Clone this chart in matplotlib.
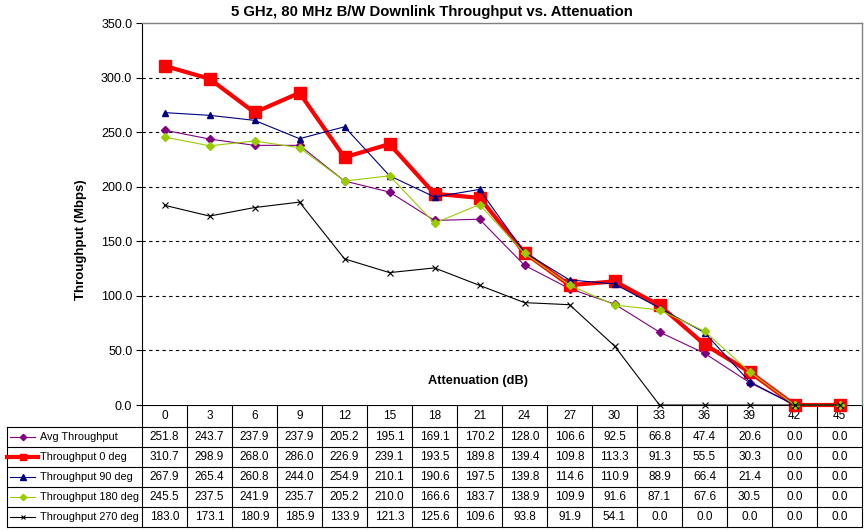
import matplotlib
matplotlib.use("Agg")
import matplotlib.pyplot as plt
from matplotlib.lines import Line2D

plt.rcParams['font.family'] = ['Liberation Sans', 'DejaVu Sans']

# datos
atten = [0, 3, 6, 9, 12, 15, 18, 21, 24, 27, 30, 33, 36, 39, 42, 45]
avg = [251.8, 243.7, 237.9, 237.9, 205.2, 195.1, 169.1, 170.2, 128.0, 106.6, 92.5, 66.8, 47.4, 20.6, 0.0, 0.0]
deg0 = [310.7, 298.9, 268.0, 286.0, 226.9, 239.1, 193.5, 189.8, 139.4, 109.8, 113.3, 91.3, 55.5, 30.3, 0.0, 0.0]
deg90 = [267.9, 265.4, 260.8, 244.0, 254.9, 210.1, 190.6, 197.5, 139.8, 114.6, 110.9, 88.9, 66.4, 21.4, 0.0, 0.0]
deg180 = [245.5, 237.5, 241.9, 235.7, 205.2, 210.0, 166.6, 183.7, 138.9, 109.9, 91.6, 87.1, 67.6, 30.5, 0.0, 0.0]
deg270 = [183.0, 173.1, 180.9, 185.9, 133.9, 121.3, 125.6, 109.6, 93.8, 91.9, 54.1, 0.0, 0.0, 0.0, 0.0, 0.0]

nombres = ['Avg Throughput', 'Throughput 0 deg', 'Throughput 90 deg',
           'Throughput 180 deg', 'Throughput 270 deg']
series = [avg, deg0, deg90, deg180, deg270]
estilos = [
    dict(color='#800080', lw=0.8, marker='D', ms=4, mfc='#800080', mec='#800080'),
    dict(color='#FF0000', lw=3.0, marker='s', ms=9, mfc='#FF0000', mec='#FF0000'),
    dict(color='#000080', lw=0.8, marker='^', ms=5, mfc='#000080', mec='#000080'),
    dict(color='#99CC00', lw=0.8, marker='D', ms=4, mfc='#99CC00', mec='#99CC00'),
    dict(color='#000000', lw=0.8, marker='x', ms=4, mew=0.8),
]

W, H = 867, 531
fig = plt.figure(figsize=(W / 100, H / 100), dpi=100)
fig.patch.set_facecolor('white')

# zona de la grafica en pixeles
x0, x1 = 142, 862
y_top, y_bot = 23, 405
ax = fig.add_axes([x0 / W, 1 - y_bot / H, (x1 - x0) / W, (y_bot - y_top) / H])

n = len(atten)
pos = range(n)
for s, st in zip(series, estilos):
    ax.plot(pos, s, **st, clip_on=False, zorder=3)

ax.set_xlim(-0.5, n - 0.5)
ax.set_ylim(0, 350)
yt = list(range(0, 351, 50))
ax.set_yticks(yt)
ax.set_yticklabels(['%.1f' % v for v in yt], fontsize=9)
for v in yt[1:-1]:
    ax.axhline(v, color='black', lw=0.8, ls=(0, (3, 3)), zorder=1)
ax.set_xticks([])
ax.spines['bottom'].set_visible(False)
for lado in ['top', 'right']:
    ax.spines[lado].set_color('#808080')
    ax.spines[lado].set_linewidth(1.0)
ax.spines['left'].set_linewidth(0.8)
ax.tick_params(axis='y', length=4, width=0.8, pad=3)
fig.text(81 / W, 1 - 240 / H, 'Throughput (Mbps)', rotation=90, ha='center',
         va='center', fontsize=9.5, fontweight='bold')
ax.text((478 - x0) / (x1 - x0), 0.063, 'Attenuation (dB)', transform=ax.transAxes,
        ha='center', va='center', fontsize=9.2, fontweight='bold')

fig.text(431.5 / W, 1 - 12 / H, '5 GHz, 80 MHz B/W Downlink Throughput vs. Attenuation',
         ha='center', va='center', fontsize=10.7, fontweight='bold')

# tabla de datos
tab = fig.add_axes([0, 0, 1, 1], zorder=-1)
tab.set_xlim(0, W)
tab.set_ylim(H, 0)
tab.axis('off')

cw = (x1 - x0) / n
fila0 = 405
rh = 20
filas = [fila0 + 22 + rh * i for i in range(len(series) + 1)]
lk = dict(color='black', lw=0.8)
# lineas horizontales
tab.plot([x0, x1], [fila0, fila0], **lk)
for yy in filas:
    tab.plot([7, x1], [yy, yy], **lk)
# lineas verticales
tab.plot([7, 7], [filas[0], filas[-1]], **lk)
for i in range(n + 1):
    tab.plot([x0 + cw * i] * 2, [fila0, filas[-1]], **lk)

for i, a in enumerate(atten):
    cx = x0 + cw * (i + 0.5)
    tab.text(cx, (fila0 + filas[0]) / 2, str(a), ha='center', va='center', fontsize=8.5)
    for j, s in enumerate(series):
        tab.text(cx, (filas[j] + filas[j + 1]) / 2, '%.1f' % s[i],
                 ha='center', va='center', fontsize=8.5)

# claves de la leyenda dentro de la tabla
for j, (nom, st) in enumerate(zip(nombres, estilos)):
    cy = (filas[j] + filas[j + 1]) / 2
    xa, xb = (7, 38) if j == 1 else (10, 35)
    clave = dict(st)
    clave['ms'] = 5 if j == 1 else st['ms'] * 0.8
    tab.add_line(Line2D([xa, (xa + xb) / 2, xb], [cy, cy, cy], markevery=[1], **clave))
    tab.text(39.5, cy, nom, ha='left', va='center', fontsize=7.8)

fig.savefig('out.png', dpi=100, facecolor='white')
